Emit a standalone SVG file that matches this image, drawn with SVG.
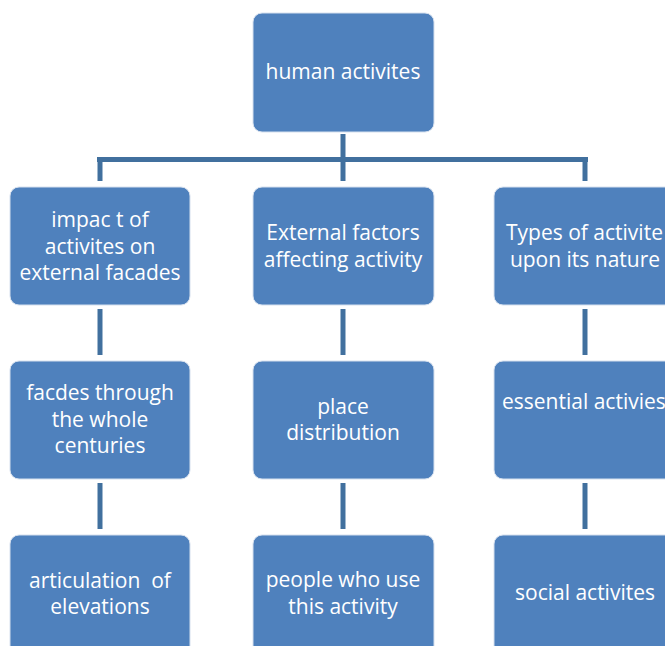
<svg xmlns="http://www.w3.org/2000/svg" width="665" height="646" viewBox="0 0 665 646">
<style>
.n{fill:#4F81BD;stroke:#D6E0EE;stroke-width:1}
.t{font-family:"Open Sans","Noto Sans",sans-serif;font-size:21px;fill:#FFFFFF;text-anchor:middle;white-space:pre}
.s{text-anchor:start}
.c{stroke:#41709E;stroke-width:5;fill:none}
</style>
<rect width="665" height="646" fill="#FFFFFF"/>
<g id="connectors">
<line class="c" x1="343" y1="134" x2="343" y2="181"/>
<line class="c" x1="97" y1="159.5" x2="588" y2="159.5"/>
<line class="c" x1="100" y1="159" x2="100" y2="181"/>
<line class="c" x1="585" y1="159" x2="585" y2="181"/>
<line class="c" x1="100" y1="309" x2="100" y2="355"/>
<line class="c" x1="343" y1="309" x2="343" y2="355"/>
<line class="c" x1="585" y1="309" x2="585" y2="355"/>
<line class="c" x1="100" y1="483" x2="100" y2="529"/>
<line class="c" x1="343" y1="483" x2="343" y2="529"/>
<line class="c" x1="585" y1="483" x2="585" y2="529"/>
</g>
<g id="n0"><rect class="n" x="253" y="13" width="181" height="119" rx="9"/><text class="t" x="343" y="79">human activites</text></g>
<g id="n1"><rect class="n" x="10" y="187" width="180" height="118" rx="9"/><text class="t" x="100" y="227">impac t of</text><text class="t" x="100" y="253.5">activites on</text><text class="t" x="100" y="280">external facades</text></g>
<g id="n2"><rect class="n" x="253" y="187" width="181" height="118" rx="9"/><text class="t" x="343" y="240">External factors</text><text class="t" x="343" y="267">affecting activity</text></g>
<g id="n3"><rect class="n" x="494" y="187" width="190" height="118" rx="9"/><text class="t s" x="506" y="240">Types of activite</text><text class="t" x="585" y="267">upon its nature</text></g>
<g id="n4"><rect class="n" x="10" y="361" width="180" height="118" rx="9"/><text class="t" x="100" y="400">facdes through</text><text class="t" x="100" y="427">the whole</text><text class="t" x="100" y="453">centuries</text></g>
<g id="n5"><rect class="n" x="253" y="361" width="181" height="118" rx="9"/><text class="t" x="343" y="414">place</text><text class="t" x="343" y="440">distribution</text></g>
<g id="n6"><rect class="n" x="494" y="361" width="190" height="118" rx="9"/><text class="t s" x="502" y="409">essential activies</text></g>
<g id="n7"><rect class="n" x="10" y="535" width="180" height="130" rx="9"/><text class="t" x="100" y="588">articulation  of</text><text class="t" x="100" y="614">elevations</text></g>
<g id="n8"><rect class="n" x="253" y="535" width="181" height="130" rx="9"/><text class="t" x="343" y="587">people who use</text><text class="t" x="343" y="614">this activity</text></g>
<g id="n9"><rect class="n" x="494" y="535" width="190" height="130" rx="9"/><text class="t" x="585" y="600">social activites</text></g>
</svg>
